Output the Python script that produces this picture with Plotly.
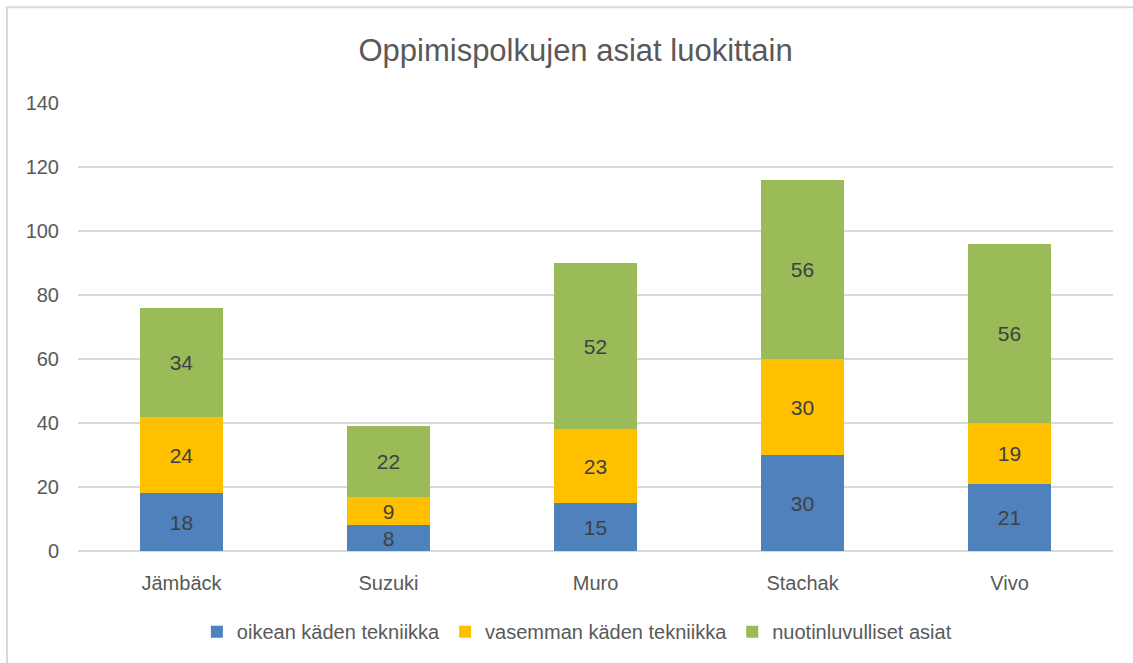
import plotly.graph_objects as go

categories = ["Jämbäck", "Suzuki", "Muro", "Stachak", "Vivo"]
oikea = [18, 8, 15, 30, 21]
vasen = [24, 9, 23, 30, 19]
nuotti = [34, 22, 52, 56, 56]
series_names = ["oikean käden tekniikka", "vasemman käden tekniikka", "nuotinluvulliset asiat"]
colors = ["#4F81BD", "#FFC000", "#9BBB59"]
y_ticks = [0, 20, 40, 60, 80, 100, 120, 140]

FONT = "Liberation Sans Narrow, Arial Narrow, Liberation Sans, Arial, sans-serif"

fig = go.Figure()
for name, vals, col in zip(series_names, [oikea, vasen, nuotti], colors):
    fig.add_trace(go.Bar(
        x=categories, y=vals, name=name, marker=dict(color=col, line=dict(width=0)),
        text=[str(v) for v in vals], textposition="inside", insidetextanchor="middle",
        textangle=0,
        textfont=dict(family=FONT, size=21, color="#404040"),
        constraintext="none",
    ))

fig.update_layout(
    barmode="stack", bargap=0.6,
    width=1133, height=663,
    margin=dict(l=78, r=20, t=103, b=112),
    paper_bgcolor="white", plot_bgcolor="white",
    font=dict(family=FONT, color="#595959"),
    title=dict(text="Oppimispolkujen asiat luokittain", x=0.508, xanchor="center",
               y=0.925, yanchor="middle", xref="container", yref="container",
               font=dict(family=FONT, size=31, color="#595959")),
    xaxis=dict(showgrid=False, showline=False, ticks="outside", ticklen=14,
               tickcolor="rgba(0,0,0,0)", tickfont=dict(size=20, color="#595959")),
    yaxis=dict(range=[0, 140], tickvals=y_ticks, showgrid=True, gridcolor="#D9D9D9", gridwidth=1.5,
               zeroline=True, zerolinecolor="#D9D9D9", zerolinewidth=1.5, showline=False,
               ticks="outside", ticklen=14, tickcolor="rgba(0,0,0,0)",
               tickfont=dict(size=20, color="#595959")),
    legend=dict(orientation="h", x=0.482, xanchor="center", y=-0.18, yanchor="middle",
                font=dict(size=20, color="#595959"), traceorder="normal", itemwidth=30),
    uniformtext=dict(minsize=10, mode="show"),
    shapes=[dict(type="rect", xref="paper", yref="paper", x0=-0.0686, x1=1.2, y0=-0.5, y1=1.214,
                 line=dict(color="#D9D9D9", width=2), fillcolor="rgba(0,0,0,0)", layer="below")],
)

fig.write_html("out.html", config={"displayModeBar": False},
               post_script="document.body.style.margin='0';document.body.style.overflow='hidden';")
